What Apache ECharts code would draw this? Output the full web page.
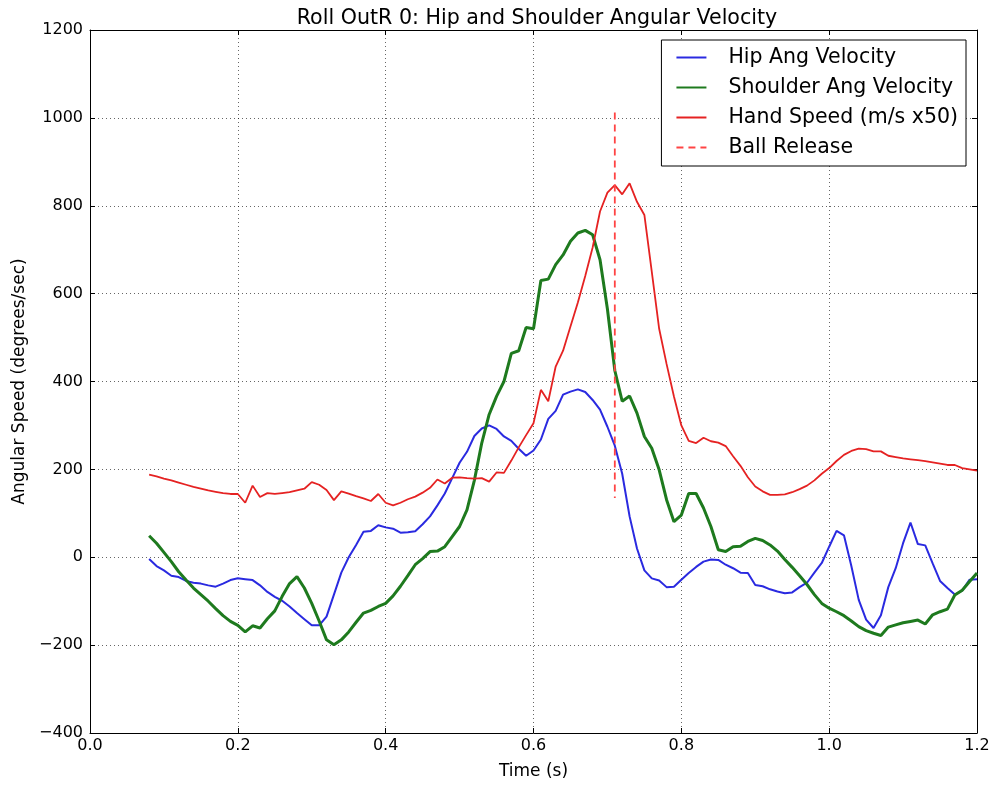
<!DOCTYPE html>
<html>
<head>
<meta charset="utf-8">
<script src="https://cdn.jsdelivr.net/npm/echarts@6/dist/echarts.min.js"></script>
<style>
  html, body { margin: 0; padding: 0; background: #fff; }
  #chart { width: 993px; height: 785px; }
</style>
</head>
<body>
<div id="chart"></div>
<script>
// time samples (s)
const times = [
  0.08, 0.09, 0.10, 0.11, 0.12, 0.13, 0.14, 0.15, 0.16, 0.17, 0.18, 0.19,
  0.20, 0.21, 0.22, 0.23, 0.24, 0.25, 0.26, 0.27, 0.28, 0.29, 0.30, 0.31,
  0.32, 0.33, 0.34, 0.35, 0.36, 0.37, 0.38, 0.39, 0.40, 0.41, 0.42, 0.43,
  0.44, 0.45, 0.46, 0.47, 0.48, 0.49, 0.50, 0.51, 0.52, 0.53, 0.54, 0.55,
  0.56, 0.57, 0.58, 0.59, 0.60, 0.61, 0.62, 0.63, 0.64, 0.65, 0.66, 0.67,
  0.68, 0.69, 0.70, 0.71, 0.72, 0.73, 0.74, 0.75, 0.76, 0.77, 0.78, 0.79,
  0.80, 0.81, 0.82, 0.83, 0.84, 0.85, 0.86, 0.87, 0.88, 0.89, 0.90, 0.91,
  0.92, 0.93, 0.94, 0.95, 0.96, 0.97, 0.98, 0.99, 1.00, 1.01, 1.02, 1.03,
  1.04, 1.05, 1.06, 1.07, 1.08, 1.09, 1.10, 1.11, 1.12, 1.13, 1.14, 1.15,
  1.16, 1.17, 1.18, 1.19, 1.20
];

const hipVel = [
  -4, -20, -30, -42, -45, -54, -58, -60, -64, -67, -60, -52,
  -48, -50, -52, -64, -79, -90, -99, -112, -127, -141, -155, -155,
  -135, -85, -35, 0, 28, 58, 60, 73, 68, 65, 56, 57,
  59, 75, 93, 118, 145, 180, 215, 240, 276, 293, 300, 292,
  275, 265, 247, 231, 243, 268, 315, 333, 370, 377, 382, 376,
  358, 336, 297, 254, 190, 93, 20, -30, -48, -53, -68, -67,
  -51, -36, -22, -10, -5, -6, -17, -25, -35, -36, -63, -66,
  -73, -78, -82, -80, -68, -58, -35, -13, 24, 60, 50, -20,
  -97, -142, -161, -132, -68, -25, 32, 79, 30, 27, -14, -54,
  -70, -85, -76, -51, -50
];

const shoulderVel = [
  49, 32, 11, -10, -33, -52, -70, -85, -100, -117, -133, -146,
  -155, -170, -156, -161, -140, -122, -89, -60, -44, -70, -105, -145,
  -188, -199, -188, -170, -148, -127, -121, -112, -105, -88, -66, -42,
  -17, -3, 13, 14, 24, 47, 70, 108, 175, 260, 325, 366,
  400, 464, 470, 523, 520, 630, 633, 666, 688, 719, 738, 744,
  734, 677, 565, 425, 355, 367, 328, 275, 248, 199, 131, 81,
  96, 145, 145, 112, 70, 17, 13, 24, 25, 36, 43, 38,
  28, 14, -5, -23, -42, -62, -85, -105, -116, -124, -133, -145,
  -158, -167, -173, -178, -159, -154, -149, -146, -143, -152, -131, -124,
  -118, -86, -75, -55, -36
];

const handSpeed = [
  188, 184, 179, 175, 170, 165, 160, 156, 152, 149, 146, 144,
  144, 124, 163, 137, 146, 144, 146, 148, 152, 156, 171, 165,
  153, 130, 150, 145, 139, 134, 128, 144, 124, 118, 124, 132,
  138, 147, 158, 177, 168, 181, 182, 180, 179, 180, 172, 193,
  192, 220, 250, 278, 305, 381, 355, 434, 470, 525, 580, 640,
  705, 787, 830, 847, 826, 851, 809, 779, 650, 520, 440, 366,
  300, 265, 260, 272, 264, 261, 253, 230, 208, 182, 161, 150,
  142, 142, 143, 148, 155, 163, 175, 190, 203, 219, 233, 242,
  247, 246, 241, 241, 231, 228, 225, 223, 221, 219, 216, 213,
  210, 210, 203, 200, 197
];

// ball release marker
const releaseTime = [0.71, 0.71];
const releaseRange = [1012, 135];

const chart = echarts.init(document.getElementById('chart'));

const font = 'DejaVu Sans';
const minus = v => String(v).replace('-', '\u2212');

const pairs = ys => times.map((t, i) => [t, ys[i]]);

// top / right frame with inward ticks, no labels
const frameAxis = {
  axisLine: { show: true, onZero: false, lineStyle: { color: '#000', width: 1 } },
  axisTick: { show: true, inside: true, length: 5, lineStyle: { color: '#000' } },
  axisLabel: { show: false },
  splitLine: { show: false }
};

const option = {
  animation: false,
  backgroundColor: '#fff',
  textStyle: { fontFamily: font },
  title: {
    text: 'Roll OutR 0: Hip and Shoulder Angular Velocity',
    left: 532,
    top: 3,
    textAlign: 'center',
    textStyle: { fontFamily: font, fontSize: 20.6, fontWeight: 'normal', color: '#000' }
  },
  legend: {
    orient: 'vertical',
    right: 27,
    top: 40,
    padding: [7, 8, 8, 14],
    itemGap: 9,
    itemWidth: 30,
    itemHeight: 14,
    borderColor: '#000',
    borderWidth: 1,
    borderRadius: 0,
    backgroundColor: '#fff',
    itemStyle: { opacity: 0 },
    textStyle: { fontFamily: font, fontSize: 20.5, color: '#000', padding: [0, 0, 0, 17] },
    data: ['Hip Ang Velocity', 'Shoulder Ang Velocity', 'Hand Speed (m/s x50)', 'Ball Release']
  },
  grid: { left: 90, right: 16, top: 30, bottom: 52 },
  xAxis: [
    {
      type: 'value',
      min: 0,
      max: 1.2,
      interval: 0.2,
      name: 'Time (s)',
      nameLocation: 'middle',
      nameGap: 30,
      nameTextStyle: { fontFamily: font, fontSize: 17, color: '#000' },
      axisLine: { show: true, onZero: false, lineStyle: { color: '#000', width: 1 } },
      axisTick: { show: true, inside: true, length: 5, lineStyle: { color: '#000' } },
      axisLabel: { fontFamily: font, fontSize: 16, color: '#000', margin: 5, formatter: v => v.toFixed(1) },
      splitLine: { show: true, lineStyle: { color: '#000', type: [1, 3], width: 1, opacity: 0.6 } }
    },
    Object.assign({ type: 'value', position: 'top', min: 0, max: 1.2, interval: 0.2 }, frameAxis)
  ],
  yAxis: [
    {
      type: 'value',
      min: -400,
      max: 1200,
      interval: 200,
      name: 'Angular Speed (degrees/sec)',
      nameLocation: 'middle',
      nameGap: 60,
      nameTextStyle: { fontFamily: font, fontSize: 17, color: '#000' },
      axisLine: { show: true, onZero: false, lineStyle: { color: '#000', width: 1 } },
      axisTick: { show: true, inside: true, length: 5, lineStyle: { color: '#000' } },
      axisLabel: { fontFamily: font, fontSize: 16, color: '#000', margin: 7, formatter: minus },
      splitLine: { show: true, lineStyle: { color: '#000', type: [1, 3], width: 1, opacity: 0.6 } }
    },
    Object.assign({ type: 'value', position: 'right', min: -400, max: 1200, interval: 200 }, frameAxis)
  ],
  series: [
    {
      name: 'Hip Ang Velocity',
      type: 'line',
      data: pairs(hipVel),
      symbol: 'none',
      color: '#2a2ae0',
      lineStyle: { width: 2, color: '#2a2ae0' }
    },
    {
      name: 'Shoulder Ang Velocity',
      type: 'line',
      data: pairs(shoulderVel),
      symbol: 'none',
      color: '#1e7a1e',
      lineStyle: { width: 3, color: '#1e7a1e' }
    },
    {
      name: 'Hand Speed (m/s x50)',
      type: 'line',
      data: pairs(handSpeed),
      symbol: 'none',
      color: '#e52222',
      lineStyle: { width: 1.8, color: '#e52222' }
    },
    {
      name: 'Ball Release',
      type: 'line',
      data: releaseTime.map((t, i) => [t, releaseRange[i]]),
      symbol: 'none',
      color: '#ff4444',
      lineStyle: { width: 1.8, color: '#ff4444', type: [7, 5] }
    }
  ]
};

chart.setOption(option);
</script>
</body>
</html>
